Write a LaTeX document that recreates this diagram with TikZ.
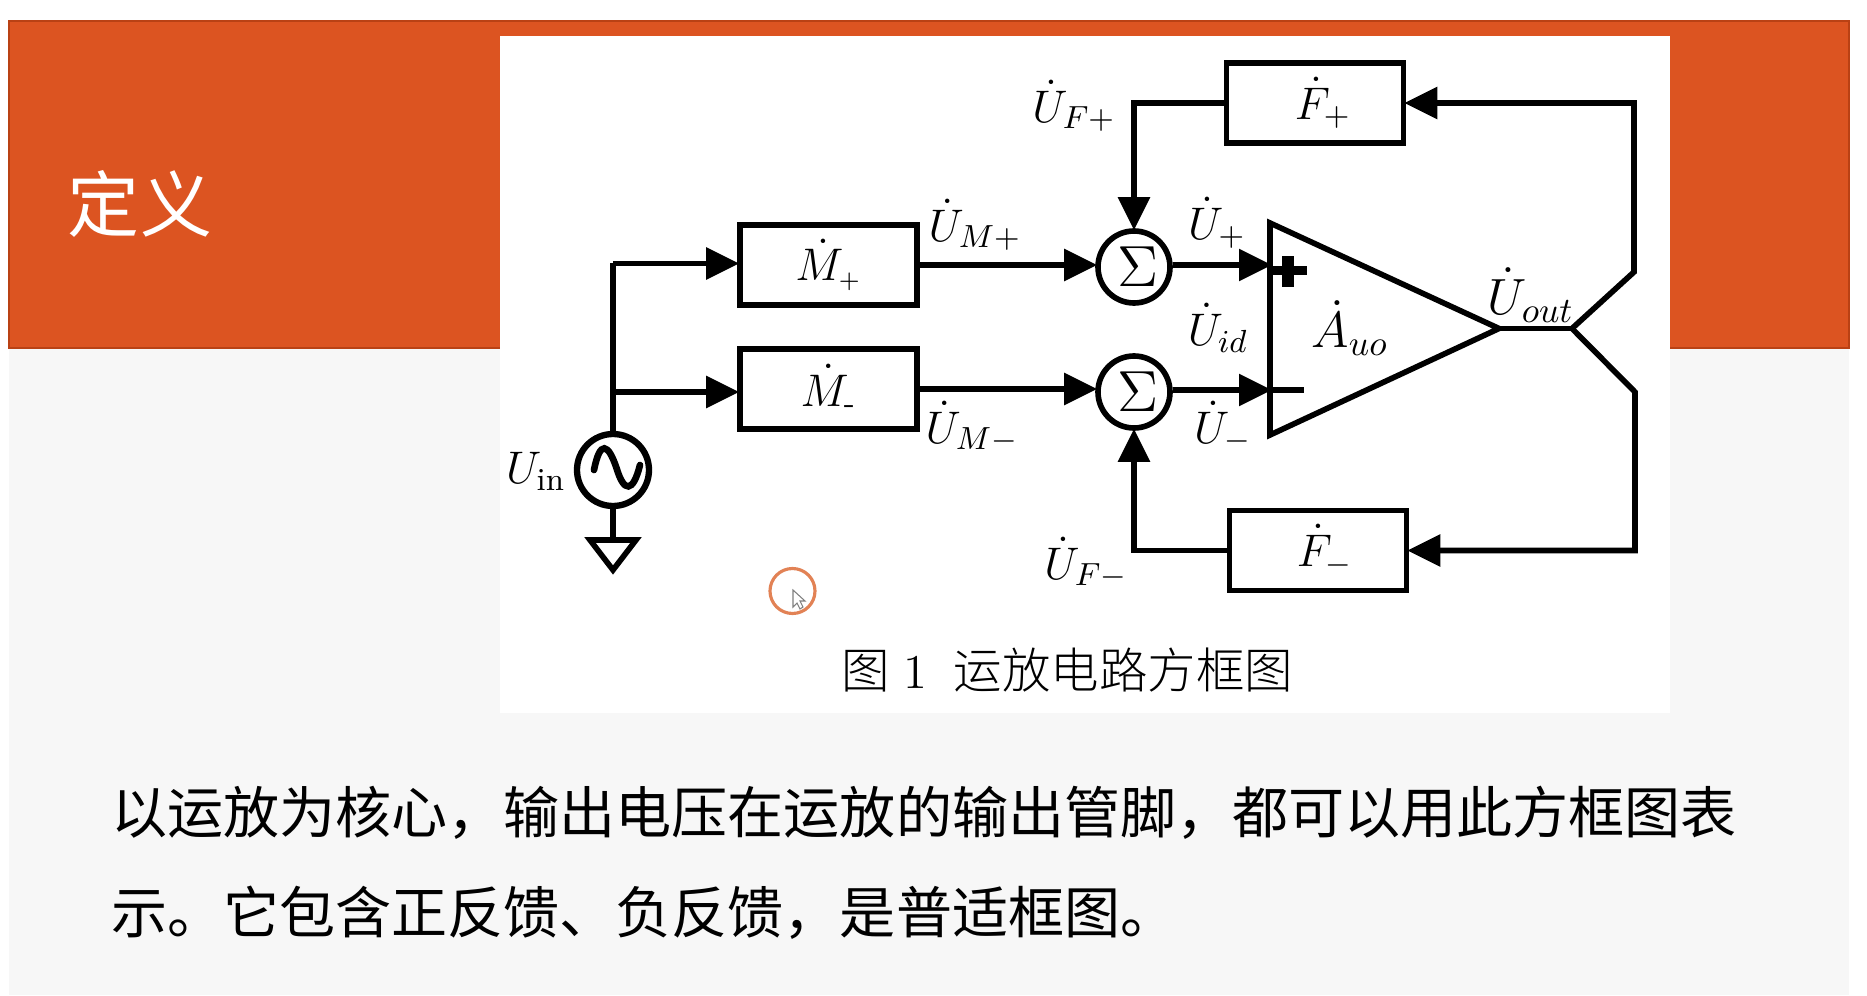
\documentclass[tikz,border=0pt]{standalone}
\usepackage{fix-cm}
\usepackage{amsmath}
\usepackage{fontspec}
\newfontfamily\cjk{Noto Sans CJK SC}
\newfontfamily\cjklight[UprightFont={* Light}]{Noto Sans CJK SC}
\usepackage{tikz}
\usetikzlibrary{calc, positioning, arrows.meta}
\definecolor{titleOrange}{RGB}{220, 84, 33}
\definecolor{titleEdge}{RGB}{185, 65, 20}
\definecolor{panelGray}{RGB}{247, 247, 247}
\definecolor{ringOrange}{RGB}{226, 130, 85}
\newcommand{\sumsign}{\kern0.07cm\raisebox{-0.08cm}{$\Sigma$}}

\tikzset{
  blockbox/.style={draw, line width=1.6pt, minimum width=1.77cm, minimum height=0.80cm, inner sep=0pt, font=\fontsize{13}{15}\selectfont},
  sumcircle/.style={draw, circle, line width=1.6pt, minimum size=0.72cm, inner sep=0pt, font=\fontsize{16.5}{18}\selectfont},
  wire/.style={line width=1.6pt},
  feed/.style={wire, -{Triangle[length=0.33cm, width=0.31cm]}, shorten >=-0.02cm},
  siglabel/.style={inner sep=0pt, font=\fontsize{13}{15}\selectfont},
  amplabel/.style={inner sep=0pt, font=\fontsize{14.5}{16}\selectfont}
}

\begin{document}
\begin{tikzpicture}[>=Stealth]
  \useasboundingbox (0,0) rectangle (18.67,9.95);

  % Slide background
  \fill[panelGray] (0.09,0) rectangle (18.49,6.47);
  \draw[titleEdge, fill=titleOrange, line width=0.3pt] (0.09,6.47) rectangle (18.49,9.74);
  \fill[white] (5.00,2.82) rectangle (16.70,9.59);
  \node[white, inner sep=0pt, font=\fontsize{20.5}{24}\selectfont\cjk] (slidetitle) at (1.40,7.91) {定义};

  % Blocks
  \node[blockbox] (Mp) at (8.285,7.30) {$\dot{M}_{\scriptscriptstyle +}$};
  \node[blockbox] (Mn) at (8.285,6.06) {$\dot{M}_{\text{-}}$};
  \node[blockbox] (Fp) at (13.15,8.92) {\kern0.16cm$\dot{F}_{+}$};
  \node[blockbox] (Fn) at (13.18,4.445) {\kern0.14cm$\dot{F}_{-}$};
  \node[sumcircle] (SumP) at (11.34,7.28) {\sumsign};
  \node[sumcircle] (SumN) at (11.34,6.03) {\sumsign};

  % Source and ground
  \node[draw, circle, line width=1.8pt, minimum size=0.72cm, inner sep=0pt] (Src) at (6.13,5.25) {};
  \draw[line width=1.9pt, line cap=round] (5.94,5.25) .. controls (6.00,5.55) and (6.08,5.52) .. (6.165,5.27)
    .. controls (6.24,5.02) and (6.33,5.02) .. (6.40,5.30);
  \coordinate (GndTop) at (6.13,4.55);
  \draw[wire] (Src.south) -- (GndTop);
  \draw[wire, line join=miter] (5.90,4.55) -- (6.36,4.55) -- (6.13,4.25) -- cycle;

  % Input branches
  \coordinate (BranchUp) at (6.13,7.315);
  \coordinate (BranchDn) at (6.13,6.03);
  \draw[wire] (Src.north) -- (BranchUp);
  \draw[feed] (BranchUp) -- (BranchUp -| Mp.west);
  \draw[feed] (BranchDn) -- (BranchDn -| Mn.west);
  \draw[feed] (Mp.east) -- (Mp.east -| SumP.west);
  \draw[feed] (Mn.east) -- (Mn.east -| SumN.west);

  % Op amp
  \coordinate (AmpTop) at (12.70,7.72);
  \coordinate (AmpBot) at (12.70,5.60);
  \coordinate (AmpTip) at (14.99,6.665);
  \draw[wire, line join=miter] (AmpTop) -- (AmpBot) -- (AmpTip) -- cycle;
  \coordinate (InP) at (12.70,7.30);
  \coordinate (InN) at (12.70,6.05);
  \draw[feed] (InP -| SumP.east) -- (InP);
  \draw[feed] (InN -| SumN.east) -- (InN);
  \fill (12.72,7.195) rectangle (13.07,7.285);
  \fill (12.82,7.08) rectangle (12.94,7.39);
  \draw[wire] (InN) -- (13.04,6.05);
  \node[amplabel] (Gain) at (13.50,6.67) {$\dot{A}_{uo}$};

  % Feedback
  \coordinate (OutJoin) at (15.72,6.665);
  \coordinate (BendTop) at (16.34,7.23);
  \coordinate (BendBot) at (16.35,6.03);
  \draw[wire] (AmpTip) -- (OutJoin);
  \draw[feed] (OutJoin) -- (BendTop) |- (Fp.east);
  \draw[feed] (OutJoin) -- (BendBot) |- (Fn.east);
  \draw[feed] (Fp.west) -| (SumP.north);
  \draw[feed] (Fn.west) -| (SumN.south);

  % Signal labels
  \node[siglabel] (Uin) at (5.36,5.24) {$U_{\mathrm{in}}$};
  \node[siglabel] (UMp) at (9.75,7.70) {$\dot{U}_{M+}$};
  \node[siglabel] (UMn) at (9.72,5.68) {$\dot{U}_{M-}$};
  \node[siglabel] (UFp) at (10.74,8.89) {$\dot{U}_{F+}$};
  \node[siglabel] (UFn) at (10.86,4.32) {$\dot{U}_{F-}$};
  \node[siglabel] (Up) at (12.17,7.72) {$\dot{U}_{+}$};
  \node[siglabel] (Uid) at (12.18,6.67) {$\dot{U}_{id}$};
  \node[siglabel] (Un) at (12.23,5.68) {$\dot{U}_{-}$};
  \node[amplabel] (Uout) at (15.31,7.00) {$\dot{U}_{out}$};

  % Pointer highlight
  \draw[ringOrange, line width=0.9pt] (7.925,4.04) circle (0.225);
  \draw[gray, fill=white, line width=0.3pt] (7.93,4.05) -- (7.93,3.88) -- (7.97,3.92) -- (8.00,3.86) -- (8.03,3.88) -- (8.00,3.94) -- (8.05,3.94) -- cycle;

  % Caption and text
  \node[inner sep=0pt, anchor=west, font=\fontsize{13.8}{16}\selectfont] (caption) at (8.41,3.25)
    {{\cjklight 图}\hspace{0.13cm}1\hspace{0.27cm}{\cjklight 运放电路方框图}};
  \node[inner sep=0pt, anchor=west, align=left, font=\fontsize{15.95}{28.45}\selectfont\cjk] (bodytext) at (1.105,1.32)
    {以运放为核心，输出电压在运放的输出管脚，都可以用此方框图表\\示。它包含正反馈、负反馈，是普适框图。};
\end{tikzpicture}
\end{document}
